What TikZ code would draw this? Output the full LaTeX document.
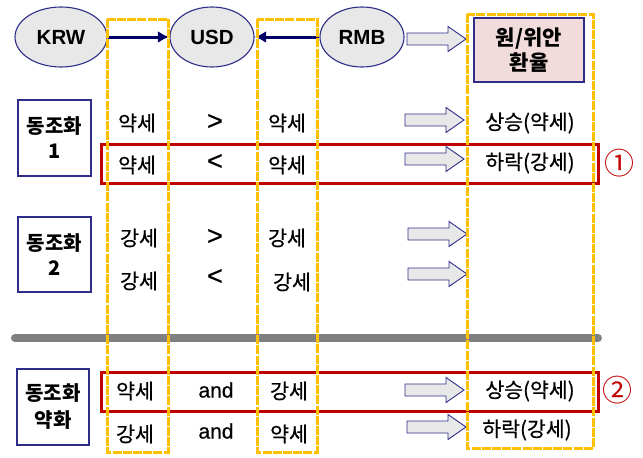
\documentclass[tikz,border=0pt]{standalone}
\usepackage{fontspec}
\setmainfont{Noto Sans CJK KR}
\newfontfamily\medfont{Noto Sans CJK KR}[UprightFeatures={FakeBold=0.6}]
\newfontfamily\latinb{Liberation Sans}
\newfontfamily\symfont{Liberation Sans}[UprightFeatures={FakeBold=0.5}]
\usetikzlibrary{arrows.meta,shapes.geometric}
\definecolor{navy}{HTML}{000066}
\definecolor{navyb}{HTML}{2E2E8A}
\definecolor{ellfill}{HTML}{E8E8E8}
\definecolor{pinkfill}{HTML}{F2DCDB}
\definecolor{orangec}{HTML}{FFC000}
\definecolor{redc}{HTML}{C00000}
\definecolor{grayline}{HTML}{808080}
\tikzset{
  cur/.style={ellipse,draw=navyb,line width=1.1pt,fill=ellfill,minimum width=86pt,minimum height=60pt,inner sep=0pt,font=\latinb\fontsize{20.5}{22}\selectfont\bfseries},
  lbox/.style={rectangle,draw=navyb,line width=1.3pt,fill=white,align=center,inner sep=0pt,font=\fontsize{20}{25}\selectfont\bfseries},
  cell/.style={inner sep=0pt,font=\medfont\fontsize{20.5}{22}\selectfont},
  sym/.style={inner sep=0pt,font=\symfont\fontsize{21}{22}\selectfont},
  cmp/.style={inner sep=0pt,font=\symfont\fontsize{27}{28}\selectfont},
  ocol/.style={draw=orangec,line width=3pt,dash pattern=on 9pt off 1.2pt},
  redbox/.style={draw=redc,line width=3pt},
  navyarr/.style={draw=navy,line width=3pt,-{Latex[length=11pt,width=12pt]},shorten >=0.5pt,shorten <=0.5pt},
  blockarr/.pic={\draw[draw=navyb,line width=0.9pt,fill=ellfill,line join=miter]
      (0,-6) -- (41,-6) -- (41,-12.5) -- (59,0) -- (41,12.5) -- (41,6) -- (0,6) -- cycle;},
  circnum/.style={inner sep=0pt,text=redc,font=\fontsize{30}{30}\selectfont}
}
\begin{document}
\begin{tikzpicture}[x=1pt,y=-1pt]
\useasboundingbox[fill=white] (0,0) rectangle (643,458);
% separator
\draw[grayline,line width=8pt,line cap=round] (15,338) -- (598,338);
% header
\node[cur,minimum width=92pt] (krw) at (61,37) {KRW};
\node[cur,minimum width=84pt] (usd) at (212,37) {USD};
\node[cur,minimum width=84pt] (rmb) at (362,37) {RMB};
\draw[navyarr] (krw) -- (usd);
\draw[navyarr] (rmb) -- (usd);
\pic at (407,39) {blockarr};
\node[rectangle,draw=navyb,line width=1.3pt,fill=pinkfill,minimum width=110pt,minimum height=64pt,align=center,inner sep=0pt,font=\fontsize{21}{25}\selectfont\bfseries] (rate) at (529,50) {원/위안\\환율};
% left boxes
\node[lbox,minimum width=73pt,minimum height=76pt] (b1) at (54.5,138) {동조화\\1};
\node[lbox,minimum width=73pt,minimum height=75pt] (b2) at (54.5,254.5) {동조화\\2};
\node[lbox,minimum width=72pt,minimum height=76pt,font=\fontsize{20}{27}\selectfont\bfseries] (b3) at (53,407) {동조화\\약화};
% red highlight boxes
\draw[redbox] (101,144) rectangle (598,183);
\draw[redbox] (101,372) rectangle (598,411);
% row 1
\node[cell] (r1a) at (137,123) {약세};
\node[cmp] (r1s) at (215,122) {>};
\node[cell] (r1b) at (287,123) {약세};
\pic at (405,120) {blockarr};
\node[cell] (r1r) at (530,123) {상승(약세)};
% row 2
\node[cell] (r2a) at (137,165) {약세};
\node[cmp] (r2s) at (215,162) {<};
\node[cell] (r2b) at (287,165) {약세};
\pic at (405,159) {blockarr};
\node[cell] (r2r) at (530,163) {하락(강세)};
% row 3
\node[cell] (r3a) at (139,238) {강세};
\node[cmp] (r3s) at (215,237) {>};
\node[cell] (r3b) at (287,238) {강세};
\pic at (408,234) {blockarr};
% row 4
\node[cell] (r4a) at (139,281) {강세};
\node[cmp] (r4s) at (215,277) {<};
\node[cell] (r4b) at (292,282) {강세};
\pic at (408,274) {blockarr};
% row 5
\node[cell] (r5a) at (135,391) {약세};
\node[sym] (r5s) at (216,390) {and};
\node[cell] (r5b) at (289,391) {강세};
\pic at (405,390) {blockarr};
\node[cell] (r5r) at (530,391) {상승(약세)};
% row 6
\node[cell] (r6a) at (135,434) {강세};
\node[sym] (r6s) at (216,431) {and};
\node[cell] (r6b) at (289,434) {약세};
\pic at (407,427) {blockarr};
\node[cell] (r6r) at (527,430) {하락(강세)};
% circled numbers
\node[circnum] (c1) at (619,163) {①};
\node[circnum] (c2) at (617,390) {②};
% orange dashed columns
\draw[ocol] (107,19) rectangle (168,452);
\draw[ocol] (257,19) rectangle (317,452);
\draw[ocol] (467,14) rectangle (593,448);
\end{tikzpicture}
\end{document}
